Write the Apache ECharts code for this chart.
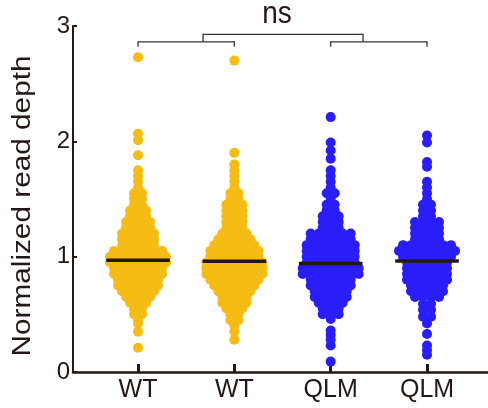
<!DOCTYPE html>
<html><head><meta charset="utf-8">
<script src="https://cdn.jsdelivr.net/npm/echarts@6/dist/echarts.min.js"></script>
<style>html,body{margin:0;padding:0;background:#fff}#c{width:488px;height:408px}</style>
</head><body><div id="c"></div>
<script>
// ---- data ----
const categories = ['WT', 'WT', 'QLM', 'QLM'];
const yTicks = [0, 1, 2, 3];
// each group: value levels and the estimated number of points at each level
const wt1Levels = [0.21,0.35,0.42,0.45,0.50,0.55,0.60,0.65,0.70,0.75,0.80,0.85,0.90,0.95,1.00,1.05,1.10,1.15,1.20,1.25,1.30,1.35,1.40,1.45,1.50,1.55,1.60,1.65,1.70,1.75,1.88,2.01,2.065,2.73];
const wt1Counts = [1,1,1,1,2,2,3,4,5,6,6,7,7,8,8,7,5,5,5,4,4,3,3,2,2,2,1,1,1,1,1,1,1,1];
const wt2Levels = [0.28,0.35,0.40,0.45,0.50,0.55,0.60,0.65,0.70,0.75,0.80,0.85,0.90,0.95,1.00,1.05,1.10,1.15,1.20,1.25,1.30,1.35,1.40,1.45,1.50,1.55,1.60,1.65,1.70,1.75,1.80,1.90,2.70];
const wt2Counts = [1,1,1,2,2,3,4,4,5,6,7,8,8,8,7,7,6,5,4,3,3,3,3,3,2,2,1,1,1,1,1,1,1];
const qlm1Levels = [0.09,0.23,0.28,0.32,0.36,0.46,0.50,0.55,0.60,0.65,0.70,0.75,0.80,0.85,0.90,0.95,1.00,1.05,1.10,1.15,1.20,1.25,1.30,1.35,1.40,1.45,1.50,1.55,1.60,1.65,1.70,1.75,1.85,1.92,1.99,2.21];
const qlm1Counts = [1,1,1,1,1,1,3,3,4,5,5,6,6,8,8,7,7,7,7,6,6,3,3,3,2,2,1,2,1,1,1,1,1,1,1,1];
const qlm2Levels = [0.15,0.19,0.23,0.33,0.42,0.48,0.54,0.59,0.65,0.70,0.75,0.80,0.85,0.90,0.95,1.00,1.05,1.10,1.15,1.20,1.25,1.30,1.35,1.40,1.45,1.50,1.55,1.60,1.65,1.78,1.82,1.99,2.05];
const qlm2Counts = [1,1,1,1,1,2,2,2,4,5,5,6,6,6,6,7,8,7,4,4,4,4,2,2,2,1,1,1,1,1,1,1,1];
const medians = [0.968, 0.960, 0.940, 0.963];
// significance brackets: [xFrom, xTo, barValue, legValue]
const brackets = [[0, 1, 2.863, 2.82], [2, 3, 2.863, 2.82], [0.675, 2.336, 2.927, 2.863]];
const sigLabel = 'ns';
const yTitle = 'Normalized read depth';

// ---- styling ----
const INK = '#231815';
const groupColors = ['#f5bd14', '#f5bd14', '#2a1ef8', '#2a1ef8'];
const DOT = 10, GAP = 8, FONT = '"Liberation Sans", Arial, sans-serif';

const groups = [[wt1Levels, wt1Counts], [wt2Levels, wt2Counts], [qlm1Levels, qlm1Counts], [qlm2Levels, qlm2Counts]];
const swarmData = [];
groups.forEach(([lv, ct], g) => {
  lv.forEach((v, i) => {
    const n = ct[i];
    for (let k = 0; k < n; k++) swarmData.push([g, v, k, n]);
  });
});

const chart = echarts.init(document.getElementById('c'), null, { renderer: 'canvas' });
chart.setOption({
  animation: false,
  grid: { left: 73, right: 0, top: 26, bottom: 36 },
  xAxis: {
    type: 'value', min: -0.675, max: 3.633,
    splitLine: { show: false },
    axisLine: { lineStyle: { color: INK, width: 2.5 } },
    axisTick: { show: true, inside: true, length: 8, customValues: [0, 1, 2, 3], lineStyle: { color: INK, width: 3 } },
    axisLabel: { customValues: [0, 1, 2, 3], formatter: v => categories[Math.round(v)], color: INK, fontSize: 25, fontFamily: FONT, margin: 6 }
  },
  yAxis: {
    type: 'value', min: 0, max: 3, interval: 1,
    splitLine: { show: false },
    axisLine: { show: true, onZero: false, lineStyle: { color: INK, width: 2 } },
    axisTick: { show: true, inside: true, length: 4, lineStyle: { color: INK, width: 2 } },
    axisLabel: { color: INK, fontSize: 24, fontFamily: FONT, margin: 3, formatter: v => yTicks.includes(v) ? String(v) : '' }
  },
  series: [
    {
      type: 'custom', data: swarmData, z: 2,
      renderItem: (params, api) => {
        const g = api.value(0), v = api.value(1), k = api.value(2), n = api.value(3);
        const p = api.coord([g, v]);
        return { type: 'circle', shape: { cx: p[0] + (k - (n - 1) / 2) * GAP, cy: p[1], r: DOT / 2 }, style: { fill: groupColors[g] } };
      }
    },
    {
      type: 'custom', data: medians.map((m, i) => [i, m]), z: 5,
      renderItem: (params, api) => {
        const i = api.value(0), m = api.value(1);
        const a = api.coord([i - 0.33, m]), b = api.coord([i + 0.33, m]);
        return { type: 'line', shape: { x1: a[0], y1: a[1], x2: b[0], y2: b[1] }, style: { stroke: INK, lineWidth: 3.5 } };
      }
    },
    {
      type: 'custom', data: brackets, z: 5,
      renderItem: (params, api) => {
        const x1 = api.value(0), x2 = api.value(1), yb = api.value(2), yl = api.value(3);
        const pts = [api.coord([x1, yl]), api.coord([x1, yb]), api.coord([x2, yb]), api.coord([x2, yl])];
        return { type: 'polyline', shape: { points: pts }, style: { stroke: '#3a3232', lineWidth: 1.3, fill: null } };
      }
    }
  ],
  graphic: [
    { type: 'text', x: 23.3, y: 206, rotation: Math.PI / 2, scaleX: 1.19,
      style: { text: yTitle, font: '25px ' + FONT, fill: INK, align: 'center', verticalAlign: 'middle', textAlign: 'center', textVerticalAlign: 'middle' } },
    { type: 'text', x: 277, y: 13.8, scaleY: 1.15,
      style: { text: sigLabel, font: '28px ' + FONT, fill: INK, align: 'center', verticalAlign: 'middle', textAlign: 'center', textVerticalAlign: 'middle' } }
  ]
});
</script>
</body></html>
